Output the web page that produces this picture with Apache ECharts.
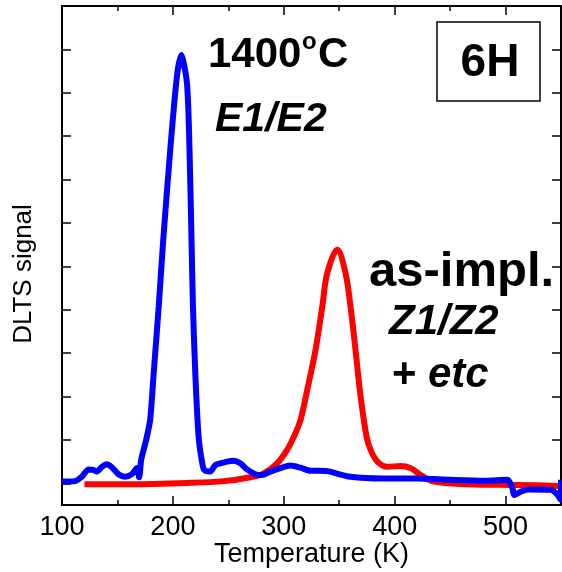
<!DOCTYPE html>
<html>
<head>
<meta charset="utf-8">
<script src="https://cdn.jsdelivr.net/npm/echarts@6/dist/echarts.min.js"></script>
<style>
  html, body { margin: 0; padding: 0; background: #fff; }
  #chart { width: 562px; height: 572px; }
</style>
</head>
<body>
<div id="chart"></div>
<script>
// Temperature axis ticks (K)
const xTickLabels = [100, 200, 300, 400, 500];

// Sample annealed at 1400 °C (E1/E2 peak)
const tempAnnealed = [100, 111.7, 117.8, 123.8, 128.3, 131.4, 135.9, 140.4, 144.9, 150.9, 156.9, 163.0, 167.5, 169.6, 171.4,
  175.9, 179.5, 182.7, 187.2, 191.3, 197.6, 203.6, 207.5, 212.7, 215.0, 216.8, 218.1, 220.2, 223.2, 227.1, 229.2, 233.7,
  238.2, 242.8, 248.8, 254.8, 260.8, 266.9, 274.4, 280.4, 287.9, 297.0, 306.0, 315.1, 324.1, 331.6, 339.2, 360.2, 390.3,
  420.5, 450.6, 480.7, 501.8, 506.3, 507.8, 513.8, 519.9, 540.9, 547.0, 549.6, 550];
const signalAnnealed = [0.54, 0.55, 0.65, 0.82, 0.81, 0.77, 0.88, 0.94, 0.87, 0.71, 0.65, 0.71, 0.85, 0.64, 1.04,
  1.50, 1.96, 3.04, 4.57, 6.11, 8.18, 9.87, 10.37, 9.72, 8.18, 6.11, 4.57, 3.04, 1.57, 0.88, 0.79, 0.77,
  0.92, 0.96, 1.00, 1.02, 0.96, 0.82, 0.71, 0.69, 0.77, 0.85, 0.91, 0.86, 0.79, 0.79, 0.78, 0.65, 0.61,
  0.61, 0.58, 0.56, 0.58, 0.38, 0.23, 0.31, 0.36, 0.35, 0.23, 0.12, 0.58];

// As-implanted sample (Z1/Z2 peak and others)
const tempImplanted = [120.2, 161.4, 215.7, 245.8, 269.9, 281.9, 294.0, 303.0, 309.0, 315.1, 321.1, 328.6, 334.7, 339.2,
  348.2, 355.7, 360.2, 364.7, 369.3, 374.7, 378.3, 384.4, 393.4, 405.4, 414.4, 423.5, 435.5, 465.7, 510.9, 550];
const signalImplanted = [0.48, 0.48, 0.51, 0.55, 0.64, 0.73, 0.96, 1.27, 1.57, 1.96, 2.65, 3.57, 4.57, 5.34,
  5.88, 5.34, 4.57, 3.57, 2.50, 1.57, 1.27, 1.00, 0.88, 0.90, 0.85, 0.69, 0.54, 0.48, 0.46, 0.44];

// Positions of the (unlabelled) signal-axis ticks
const yTickValues = [0.5, 1.5, 2.5, 3.5, 4.5, 5.5, 6.5, 7.5, 8.5, 9.5, 10.5, 11.5];

const pairs = (xs, ys) => xs.map((x, i) => [x, ys[i]]);

const FONT = '"Liberation Sans", Arial, Helvetica, sans-serif';
const chart = echarts.init(document.getElementById('chart'), null, { renderer: 'canvas' });

const xCommon = {
  type: 'value', min: 100, max: 550, interval: 100,
  axisLine: { show: true, onZero: false, lineStyle: { color: '#000', width: 2 } },
  axisTick: { show: true, inside: true, length: 9, lineStyle: { color: '#000', width: 1.5 } },
  minorTick: { show: true, splitNumber: 2, length: 5, lineStyle: { color: '#000', width: 1.5 } },
  splitLine: { show: false }
};
const yCommon = {
  type: 'value', min: 0, max: 11.5,
  axisLine: { show: true, onZero: false, lineStyle: { color: '#000', width: 2 } },
  axisTick: { show: true, inside: true, length: 9, customValues: yTickValues, lineStyle: { color: '#000', width: 1.5 } },
  axisLabel: { show: false },
  splitLine: { show: false }
};

chart.setOption({
  animation: false,
  backgroundColor: '#fff',
  grid: { left: 62, right: 1, top: 6, bottom: 67, containLabel: false, outerBoundsMode: 'none' },
  xAxis: [
    Object.assign({}, xCommon, {
      position: 'bottom',
      name: 'Temperature (K)', nameLocation: 'middle', nameGap: 36, nameMoveOverlap: false,
      nameTextStyle: { fontFamily: FONT, fontSize: 27, color: '#000' },
      axisLabel: { show: true, margin: 9, fontFamily: FONT, fontSize: 27, color: '#000',
        customValues: xTickLabels }
    }),
    Object.assign({}, xCommon, { position: 'top', axisLabel: { show: false } })
  ],
  yAxis: [
    Object.assign({}, yCommon, { position: 'left' }),
    Object.assign({}, yCommon, { position: 'right' })
  ],
  series: [
    {
      name: 'as-impl.', type: 'line', xAxisIndex: 0, yAxisIndex: 0,
      data: pairs(tempImplanted, signalImplanted), smooth: 0.35, showSymbol: false,
      lineStyle: { color: '#ff0000', width: 6 }, z: 2
    },
    {
      name: '1400 C', type: 'line', xAxisIndex: 0, yAxisIndex: 0,
      data: pairs(tempAnnealed, signalAnnealed), smooth: 0.25, showSymbol: false,
      lineStyle: { color: '#0000ff', width: 6 }, z: 3
    }
  ],
  graphic: [
    { type: 'text', rotation: Math.PI / 2, x: 24, y: 274,
      style: { text: 'DLTS signal', font: '26px ' + FONT, fill: '#000', textAlign: 'center', textVerticalAlign: 'middle' } },
    { type: 'text', x: 208, y: 55, style: { text: '1400', font: 'bold 42px ' + FONT, fill: '#000', textVerticalAlign: 'middle' } },
    { type: 'text', x: 302, y: 42, style: { text: 'o', font: 'bold 24px ' + FONT, fill: '#000', textVerticalAlign: 'middle' } },
    { type: 'text', x: 318, y: 55, style: { text: 'C', font: 'bold 42px ' + FONT, fill: '#000', textVerticalAlign: 'middle' } },
    { type: 'text', x: 215, y: 120, style: { text: 'E1/E2', font: 'italic bold 41px ' + FONT, fill: '#000', textVerticalAlign: 'middle' } },
    { type: 'rect', shape: { x: 437, y: 22, width: 103, height: 79 }, style: { fill: '#fff', stroke: '#000', lineWidth: 1.5 } },
    { type: 'text', x: 490, y: 63, style: { text: '6H', font: 'bold 46px ' + FONT, fill: '#000', textAlign: 'center', textVerticalAlign: 'middle' } },
    { type: 'text', x: 369, y: 272, style: { text: 'as-impl.', font: 'bold 49px ' + FONT, fill: '#000', textVerticalAlign: 'middle' } },
    { type: 'text', x: 389, y: 322, style: { text: 'Z1/Z2', font: 'italic bold 42px ' + FONT, fill: '#000', textVerticalAlign: 'middle' } },
    { type: 'text', x: 392, y: 375, style: { text: '+', font: 'bold 42px ' + FONT, fill: '#000', textVerticalAlign: 'middle' } },
    { type: 'text', x: 428, y: 375, style: { text: 'etc', font: 'italic bold 42px ' + FONT, fill: '#000', textVerticalAlign: 'middle' } }
  ]
});
</script>
</body>
</html>
